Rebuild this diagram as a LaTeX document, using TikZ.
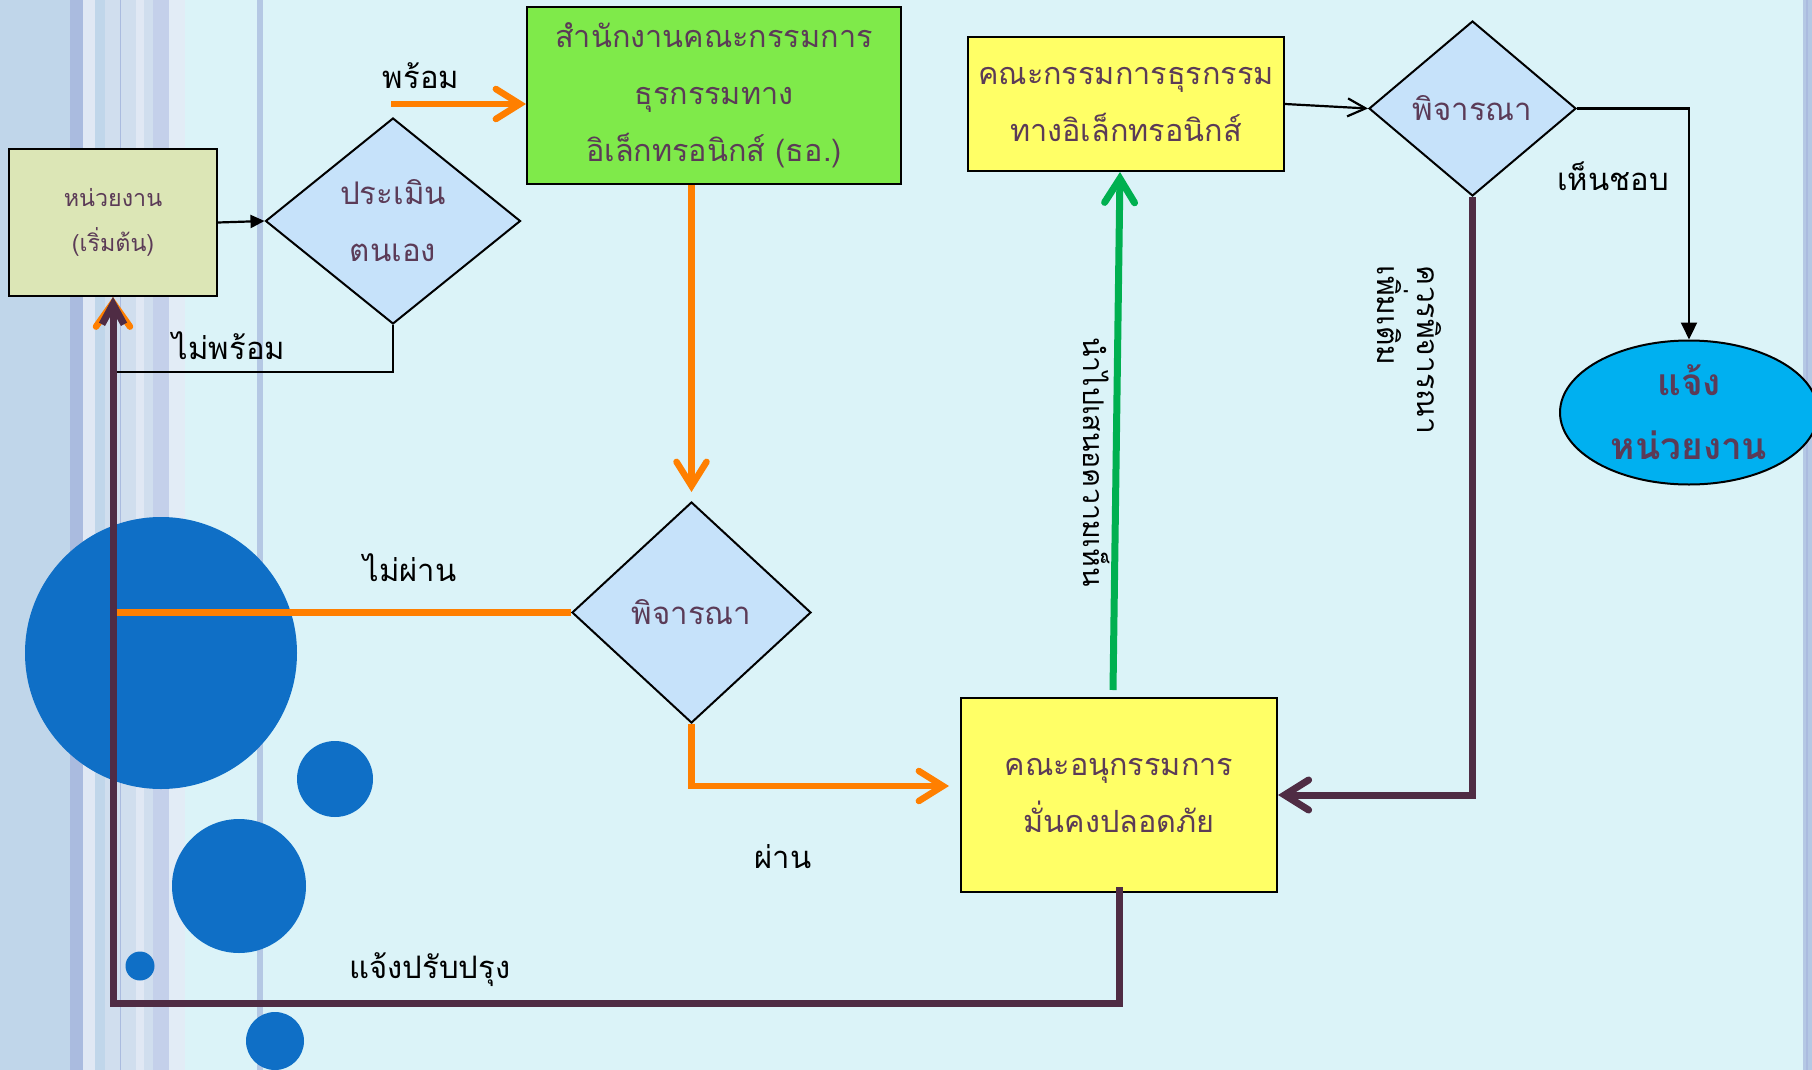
\documentclass[tikz,border=0pt]{standalone}
\usepackage{fontspec}
\newfontfamily\thai[Script=Thai]{Loma}
\usetikzlibrary{arrows.meta,shapes.geometric}
\definecolor{bgc}{HTML}{DBF3F8}
\definecolor{sA}{HTML}{C0D6EA}
\definecolor{sB}{HTML}{AABBDF}
\definecolor{sC}{HTML}{E0E8F4}
\definecolor{sD}{HTML}{D0DEEE}
\definecolor{sE}{HTML}{C4D0EA}
\definecolor{sF}{HTML}{E2ECF6}
\definecolor{sG}{HTML}{B4C8E4}
\definecolor{dotc}{HTML}{0F6FC6}
\definecolor{ntext}{HTML}{5B3B57}
\definecolor{olive}{HTML}{DCE6B6}
\definecolor{dia}{HTML}{C6E2FA}
\definecolor{grn}{HTML}{7FEA4A}
\definecolor{yel}{HTML}{FFFF66}
\definecolor{ellc}{HTML}{00B0F0}
\definecolor{org}{HTML}{FF7F00}
\definecolor{plum}{HTML}{4F2C44}
\definecolor{gline}{HTML}{00B050}
\begin{document}
\begin{tikzpicture}[x=1pt,y=-1pt,
  box/.style={draw=black,line width=2pt,text=ntext,align=center,inner sep=0pt,font=\thai\fontsize{30.6}{57}\selectfont},
  dec/.style={diamond,draw=black,line width=2pt,fill=dia,text=ntext,align=center,inner sep=0pt,font=\thai\fontsize{31.2}{57}\selectfont},
  lbl/.style={text=black,inner sep=0pt,font=\thai\fontsize{31}{36}\selectfont},
  thinline/.style={line width=2.2pt,draw=black},
  barb/.style={-{Straight Barb[length=24pt,width=30pt,line cap=round]}},
  orangeline/.style={line width=6.5pt,draw=org,line cap=butt},
  plumline/.style={line width=7pt,draw=plum},
  greenline/.style={line width=7pt,draw=gline}
]
% background
\fill[bgc] (0,0) rectangle (1812,1070);
\useasboundingbox (0,0) rectangle (1812,1070);
\fill[sA] (0,0) rectangle (70,1070);
\fill[sB] (70,0) rectangle (83,1070);
\fill[sC] (83,0) rectangle (95,1070);
\fill[sA] (95,0) rectangle (105,1070);
\fill[sD] (105,0) rectangle (136,1070);
\fill[sB] (120,0) rectangle (121,1070);
\fill[sC] (136,0) rectangle (144,1070);
\fill[sD] (144,0) rectangle (153,1070);
\fill[sE] (153,0) rectangle (169,1070);
\fill[sF] (169,0) rectangle (185,1070);
\fill[sG] (257,0) rectangle (263,1070);
\fill[sG] (1803,0) rectangle (1812,1070);
\fill[sB] (1806,0) rectangle (1807.5,1070);
% circles
\fill[dotc] (161,653) circle[radius=136];
\fill[dotc] (239,886) circle[radius=67];
\fill[dotc] (335,779) circle[radius=38];
\fill[dotc] (140,966) circle[radius=14.5];
\fill[dotc] (275,1041) circle[radius=29];
% nodes
\node[box,fill=olive,minimum width=208pt,minimum height=147pt,font=\thai\fontsize{23.3}{45}\selectfont] (start) at (113,222.5) {หน่วยงาน\\(เริ่มต้น)};
\node[dec,minimum width=255pt,minimum height=206pt] (self) at (393,221) {ประเมิน\\ตนเอง};
\node[box,fill=grn,minimum width=374pt,minimum height=177pt] (oetc) at (714,95.5) {สำนักงานคณะกรรมการ\\ธุรกรรมทาง\\อิเล็กทรอนิกส์ (ธอ.)};
\node[dec,minimum width=239pt,minimum height=221pt] (mid) at (691.5,612.5) {พิจารณา};
\node[box,fill=yel,minimum width=316pt,minimum height=194pt] (sub) at (1119,795) {คณะอนุกรรมการ\\มั่นคงปลอดภัย};
\node[box,fill=yel,minimum width=316pt,minimum height=134pt] (comm) at (1126,104) {คณะกรรมการธุรกรรม\\ทางอิเล็กทรอนิกส์};
\node[dec,minimum width=207pt,minimum height=175pt] (d7) at (1472.5,108.5) {พิจารณา};
\node[ellipse,draw=black,line width=2pt,fill=ellc,text=ntext,align=center,inner sep=0pt,minimum width=258pt,minimum height=144pt,font=\thai\bfseries\fontsize{37}{64}\selectfont] (ell) at (1689,412.5) {แจ้ง\\หน่วยงาน};
% coordinates
\coordinate (rs) at (391,104);
\coordinate (nr) at (116,372);
% black connectors
\draw[thinline,-{Triangle[length=14pt,width=13pt]}] (start.east) -- (self.west);
\draw[thinline] (self.south) |- (nr);
\draw[thinline,-{Straight Barb[length=18pt,width=18pt]}] (comm.east) -- (d7.west);
\draw[thinline,-{Triangle[length=17pt,width=16pt]}] (d7.east) -| (ell.north);
% orange connectors
\draw[orangeline,-{Straight Barb[length=24pt,width=34pt,line cap=round]}] (mid.west) -| (start.south);
\draw[orangeline,barb] (rs) -- (rs -| oetc.west);
\draw[orangeline,barb] (mid.north |- oetc.south) -- ([yshift=9pt]mid.north);
\draw[orangeline,barb] (mid.south) -- (mid.south |- 0,786) -- ([xshift=-11pt]sub.west |- 0,786);
% plum connectors
\draw[plumline,-{Straight Barb[length=20pt,width=22pt]}] ([yshift=6pt]sub.south) -- (sub.south |- 0,1003) -| (start.south);
\draw[plumline,barb] (d7.south) |- (sub.east);
% green
\draw[greenline,barb] ([xshift=-6pt,yshift=7pt]sub.north) -- ([xshift=-6pt]comm.south);
% labels
\node[lbl] (l1) at (421,76) {พร้อม};
\node[lbl] (l2) at (229,346) {ไม่พร้อม};
\node[lbl] (l3) at (410,568) {ไม่ผ่าน};
\node[lbl] (l4) at (783,857) {ผ่าน};
\node[lbl] (l5) at (430,970) {แจ้งปรับปรุง};
\node[lbl] (l6) at (1613,176) {เห็นชอบ};
\node[lbl,rotate=-90,font=\thai\fontsize{28.5}{36}\selectfont] (l7) at (1097,462) {นำไปเสนอความเห็น};
\node[lbl,rotate=-90,align=left,font=\thai\fontsize{30}{40}\selectfont] (l8) at (1409,350) {ควรพิจารณา\\เพิ่มเติม};
\end{tikzpicture}
\end{document}
